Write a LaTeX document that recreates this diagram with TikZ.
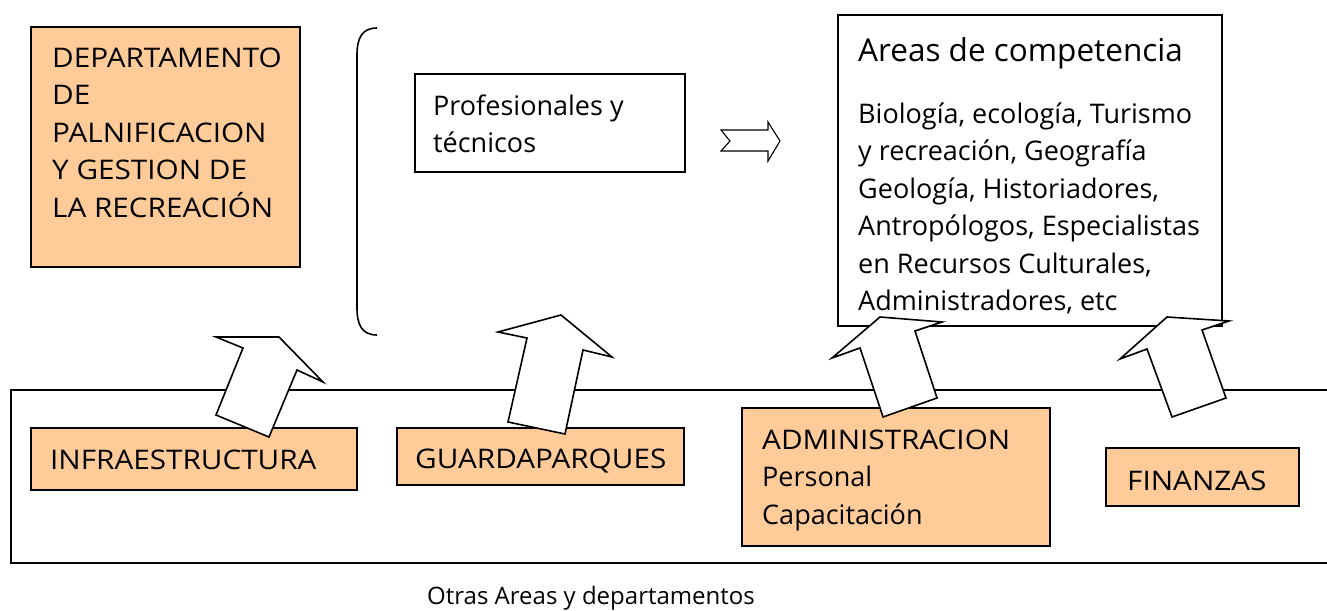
\documentclass[tikz,border=0pt]{standalone}
\usepackage{fontspec}
\setmainfont{Open Sans}
\newfontfamily\capsfont[FakeStretch=1.1]{Open Sans}
\definecolor{peach}{HTML}{FFCC99}
\begin{document}
\begin{tikzpicture}[x=1pt,y=-1pt,
  obox/.style={draw=black, line width=2pt, fill=peach, inner sep=0pt, anchor=north west},
  wbox/.style={draw=black, line width=2pt, fill=white, inner sep=0pt, anchor=north west},
  txt/.style={inner sep=0pt, anchor=base west, font=\fontsize{27}{37.5}\selectfont},
  capstxt/.style={inner sep=0pt, anchor=base west, font=\capsfont\fontsize{27}{37.5}\selectfont},
  bigtxt/.style={inner sep=0pt, anchor=base west, font=\fontsize{31.5}{40}\selectfont},
  smalltxt/.style={inner sep=0pt, anchor=base west, font=\fontsize{24}{30}\selectfont},
  blockarrow/.style={draw=black, line width=1.6pt, fill=white, line join=miter},
  hollowarrow/.style={draw=black, line width=1.1pt, fill=white, line join=miter}]
\useasboundingbox (0,0) rectangle (1327,610);
% outer frame of the other areas
\draw[line width=2pt] (1330,390) -- (11,390) -- (11,563) -- (1330,563);
% top boxes
\node[obox, minimum width=269pt, minimum height=240pt] (dep) at (30,26) {};
\node[capstxt] (deptxt) at (52,67) {\parbox[t]{260pt}{\raggedright DEPARTAMENTO\\DE\\PALNIFICACION\\Y GESTION DE\\LA RECREACIÓN}};
\draw[line width=1.6pt] (377,28) .. controls (362,28) and (357,38) .. (357,55) -- (357,308) .. controls (357,325) and (362,335) .. (377,335);
\node[wbox, minimum width=270pt, minimum height=98pt] (prof) at (414,73) {};
\node[txt] (proftxt) at (433,115) {\parbox[t]{260pt}{\raggedright Profesionales y\\técnicos}};
\node[wbox, minimum width=384pt, minimum height=311pt] (areas) at (837,14) {};
\node[bigtxt] (areastitle) at (858,62) {Areas de competencia};
\node[txt] (areastxt) at (858,123) {\parbox[t]{360pt}{\raggedright Biología, ecología, Turismo\\y recreación, Geografía\\Geología, Historiadores,\\Antropólogos, Especialistas\\en Recursos Culturales,\\Administradores, etc}};
\draw[hollowarrow] (721,130) -- (768,130) -- (768,122) -- (780,141) -- (768,161) -- (768,151) -- (721,151) -- (730,141) -- cycle;
% bottom boxes
\node[obox, minimum width=326pt, minimum height=62pt] (infra) at (30,427) {};
\node[capstxt] (infratxt) at (50,469) {INFRAESTRUCTURA};
\node[obox, minimum width=287pt, minimum height=57pt] (guarda) at (396,427) {};
\node[capstxt] (guardatxt) at (415,468) {GUARDAPARQUES};
\node[obox, minimum width=308pt, minimum height=138pt] (admin) at (741,407) {};
\node[txt] (admintxt) at (762,449) {\parbox[t]{280pt}{\raggedright {\capsfont ADMINISTRACION}\\Personal\\Capacitación}};
\node[obox, minimum width=193pt, minimum height=58pt] (fin) at (1105,447) {};
\node[capstxt] (fintxt) at (1127,490) {FINANZAS};
\node[smalltxt] (otras) at (427,604) {Otras Areas y departamentos};
% block arrows
\draw[blockarrow] (216,337) -- (279,337) -- (323,382) -- (297,370) -- (269,437) -- (216,415) -- (243,348) -- cycle;
\draw[blockarrow] (498,332) -- (561,315) -- (612,357) -- (583,350) -- (565,434) -- (508,422) -- (527,338) -- cycle;
\draw[blockarrow] (832,358) -- (880,317) -- (942,322) -- (915,331) -- (937,398) -- (883,417) -- (860,348) -- cycle;
\draw[blockarrow] (1120,359) -- (1167,317) -- (1229,321) -- (1202,330) -- (1226,398) -- (1172,417) -- (1147,349) -- cycle;
\end{tikzpicture}
\end{document}
